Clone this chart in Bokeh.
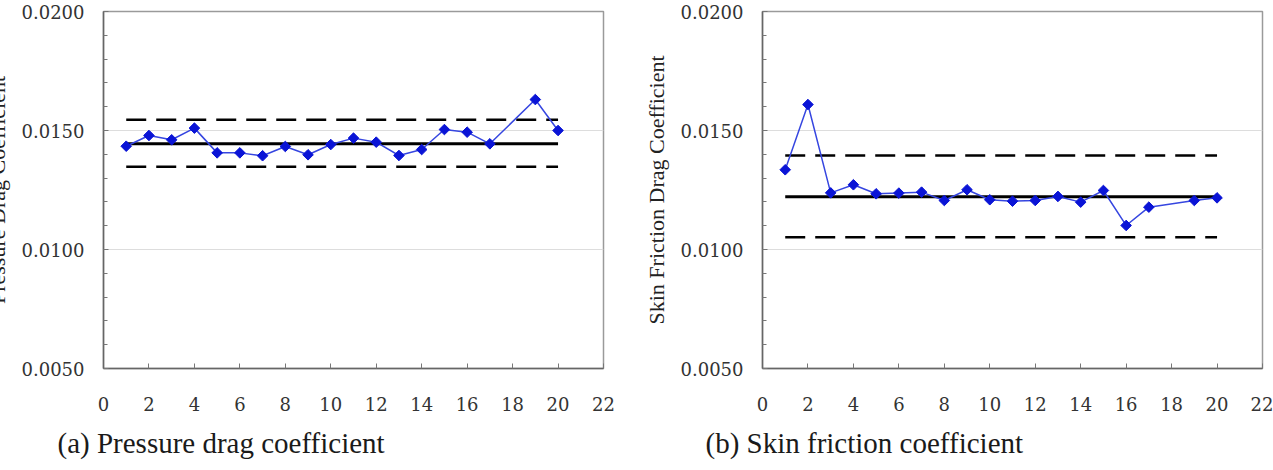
import math
from bokeh.plotting import figure
from bokeh.layouts import row
from bokeh.models import Range1d, SingleIntervalTicker, NumeralTickFormatter, Title
from bokeh.embed import file_html
from bokeh.resources import INLINE

# ---- data ----
case_no = [1, 2, 3, 4, 5, 6, 7, 8, 9, 10, 11, 12, 13, 14, 15, 16, 17, 19, 20]
pressure_cd = [0.01434, 0.01479, 0.01461, 0.01510, 0.01406, 0.01406, 0.01394, 0.01433,
               0.01398, 0.01441, 0.01468, 0.01451, 0.01395, 0.01420, 0.01504, 0.01493,
               0.01444, 0.01630, 0.01500]
friction_cd = [0.01335, 0.01609, 0.01238, 0.01272, 0.01234, 0.01237, 0.01241, 0.01206,
               0.01251, 0.01209, 0.01203, 0.01206, 0.01223, 0.01199, 0.01248, 0.01101,
               0.01178, 0.01206, 0.01217]
pressure_stats = {"mean": 0.01444, "upper": 0.01545, "lower": 0.01348}
friction_stats = {"mean": 0.01222, "upper": 0.01395, "lower": 0.01051}
x_ticks_interval = 2
y_label_a = "Pressure Drag Coefficient"
y_label_b = "Skin Friction Drag Coefficient"
caption_a = "(a) Pressure drag coefficient"
caption_b = "(b) Skin friction coefficient"

FONT = "Liberation Serif"
TICK_FONT = "DejaVu Serif"


def make_panel(xs, ys, stats, ylabel, caption, width, mb_left, mb_right, cap_offset, margin):
    p = figure(width=width, height=470,
               x_range=Range1d(0, 22), y_range=Range1d(0.005, 0.020),
               output_backend="svg", toolbar_location=None,
               min_border_left=mb_left, min_border_right=mb_right,
               min_border_top=11, min_border_bottom=102, margin=margin)
    p.background_fill_color = "white"
    p.border_fill_color = "white"
    p.outline_line_color = "#9a9a9a"
    p.outline_line_width = 1.5

    # axes
    p.xaxis.ticker = SingleIntervalTicker(interval=x_ticks_interval, num_minor_ticks=0)
    p.yaxis.ticker = SingleIntervalTicker(interval=0.005, num_minor_ticks=5)
    p.yaxis.formatter = NumeralTickFormatter(format="0.0000")
    for ax in (p.xaxis, p.yaxis):
        ax.axis_line_color = "#666666"
        ax.axis_line_width = 1.5
        ax.major_tick_in = 5
        ax.major_tick_out = 0
        ax.major_tick_line_color = "#777777"
        ax.major_label_text_font = TICK_FONT
        ax.major_label_text_font_size = "18px"
        ax.major_label_text_color = "#333333"
    p.xaxis.minor_tick_line_color = None
    p.yaxis.minor_tick_in = 4
    p.yaxis.minor_tick_out = 0
    p.yaxis.minor_tick_line_color = "#777777"
    p.xaxis.major_label_standoff = 28
    p.yaxis.major_label_standoff = 19
    p.yaxis.axis_label = ylabel
    p.yaxis.axis_label_text_font = FONT
    p.yaxis.axis_label_text_font_size = "22px"
    p.yaxis.axis_label_text_font_style = "normal"
    p.yaxis.axis_label_text_color = "#222222"
    p.yaxis.axis_label_standoff = 9

    p.xgrid.grid_line_color = None
    p.ygrid.grid_line_color = "#dddddd"
    p.ygrid.grid_line_width = 1

    x0, x1 = xs[0], xs[-1]
    p.line([x0, x1], [stats["upper"], stats["upper"]], line_color="black",
           line_width=2.5, line_dash="20 10")
    p.line([x0, x1], [stats["lower"], stats["lower"]], line_color="black",
           line_width=2.5, line_dash="20 10")
    p.line([x0, x1], [stats["mean"], stats["mean"]], line_color="black", line_width=3)

    p.line(xs, ys, line_color="#3646e0", line_width=1.5)
    p.scatter(xs, ys, marker="square", angle=math.pi / 4, size=7.5,
              fill_color="#0a14d6", line_color="#0a14d6")

    t = Title(text=caption, align="left", offset=cap_offset,
              text_font=FONT, text_font_size="29px", text_font_style="normal",
              text_color="#1a1a1a", standoff=22)
    p.add_layout(t, "below")
    return p


left = make_panel(case_no, pressure_cd, pressure_stats, y_label_a, caption_a,
                  width=657, mb_left=125, mb_right=32, cap_offset=-46, margin=(0, 0, 0, -22))
right = make_panel(case_no, friction_cd, friction_stats, y_label_b, caption_b,
                   width=638, mb_left=127, mb_right=11, cap_offset=-57, margin=(0, 0, 0, 0))

layout = row(left, right)
open("out.html", "w").write(file_html(layout, INLINE))
